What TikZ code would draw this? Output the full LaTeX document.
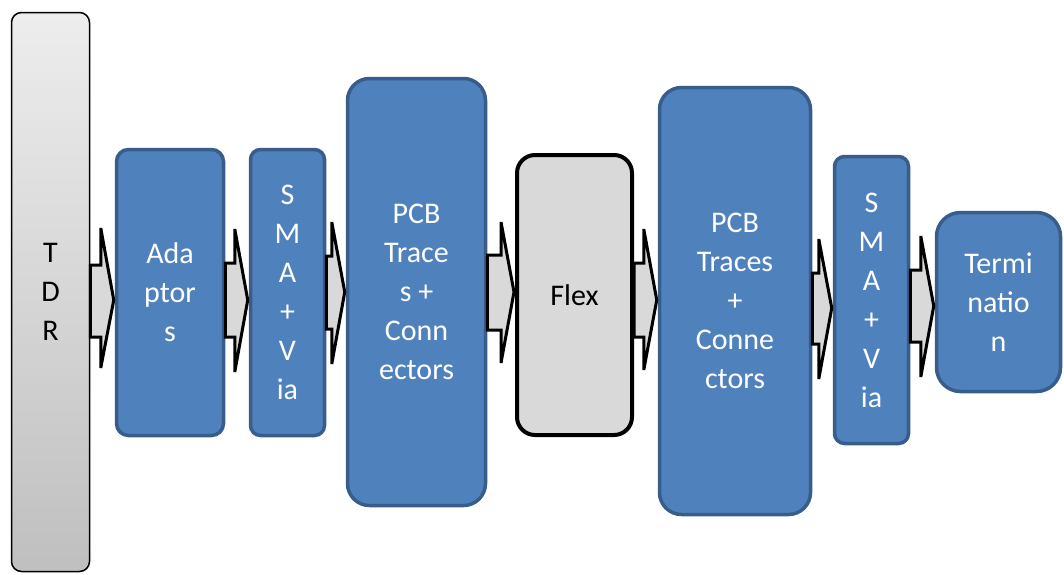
\documentclass[tikz,border=0pt]{standalone}
\usepackage{fontspec}
\setmainfont{Carlito}
\definecolor{boxblue}{HTML}{4F81BD}
\definecolor{boxedge}{HTML}{385D8A}
\definecolor{lgray}{HTML}{D9D9D9}
\tikzset{
  txt/.style={font=\fontsize{30}{39}\selectfont, align=center, inner sep=0pt},
  bluebox/.style={txt, draw=boxedge, line width=3.5pt, fill=boxblue, text=white},
  flexbox/.style={txt, draw=black, line width=4pt, fill=lgray, text=black, rounded corners=18pt},
  tdrbox/.style={txt, draw=black, line width=1.5pt, top color=black!7, bottom color=black!25, text=black, rounded corners=10pt},
  arr/.style={draw=black, line width=3pt, fill=lgray, line join=miter}
}
\newcommand\blockarr[7]{%
  \draw[arr] (#1.east |- 0,#3) -- ([xshift=-14pt]#2.west |- 0,#3) -- ([xshift=-14pt]#2.west |- 0,#5)
    -- ([xshift=-1pt]#2.west |- 0,#7) -- ([xshift=-14pt]#2.west |- 0,#6) -- ([xshift=-14pt]#2.west |- 0,#4)
    -- (#1.east |- 0,#4) -- cycle;}
\begin{document}
\begin{tikzpicture}[x=1pt,y=-1pt]
\useasboundingbox[fill=white] (0,0) rectangle (1064,574);
\node[tdrbox, minimum width=78pt, minimum height=559pt] (tdr) at (50.5,292) {T\\D\\R};
\node[bluebox, rounded corners=12pt, minimum width=107pt, minimum height=286pt] (ad) at (170,292.5) {Ada\\ptor\\s};
\node[bluebox, rounded corners=10pt, minimum width=74pt, minimum height=286pt] (sma1) at (287.5,292.5) {S\\M\\A\\+\\V\\ia};
\node[bluebox, rounded corners=22pt, minimum width=138pt, minimum height=427pt] (pcb1) at (416.5,292) {PCB\\Trace\\s +\\Conn\\ectors};
\node[flexbox, minimum width=115pt, minimum height=280pt] (flex) at (574.5,295) {Flex};
\node[bluebox, rounded corners=22pt, minimum width=151pt, minimum height=427pt] (pcb2) at (735,301) {PCB\\Traces\\+\\Conne\\ctors};
\node[bluebox, rounded corners=10pt, minimum width=74pt, minimum height=287pt] (sma2) at (871.5,300) {S\\M\\A\\+\\V\\ia};
\node[bluebox, rounded corners=24pt, minimum width=124pt, minimum height=179pt] (term) at (998.5,302) {Termi\\natio\\n};
\blockarr{tdr}{ad}{265}{337}{228}{368}{300}
\blockarr{ad}{sma1}{263}{337}{229}{372}{300}
\blockarr{sma1}{pcb1}{256}{329}{222}{364}{292}
\blockarr{pcb1}{flex}{255}{330}{222}{363}{292}
\blockarr{flex}{pcb2}{263}{337}{229}{370}{300}
\blockarr{pcb2}{sma2}{273}{344}{239}{379}{308}
\blockarr{sma2}{term}{270}{342}{236}{377}{306}
\end{tikzpicture}
\end{document}
